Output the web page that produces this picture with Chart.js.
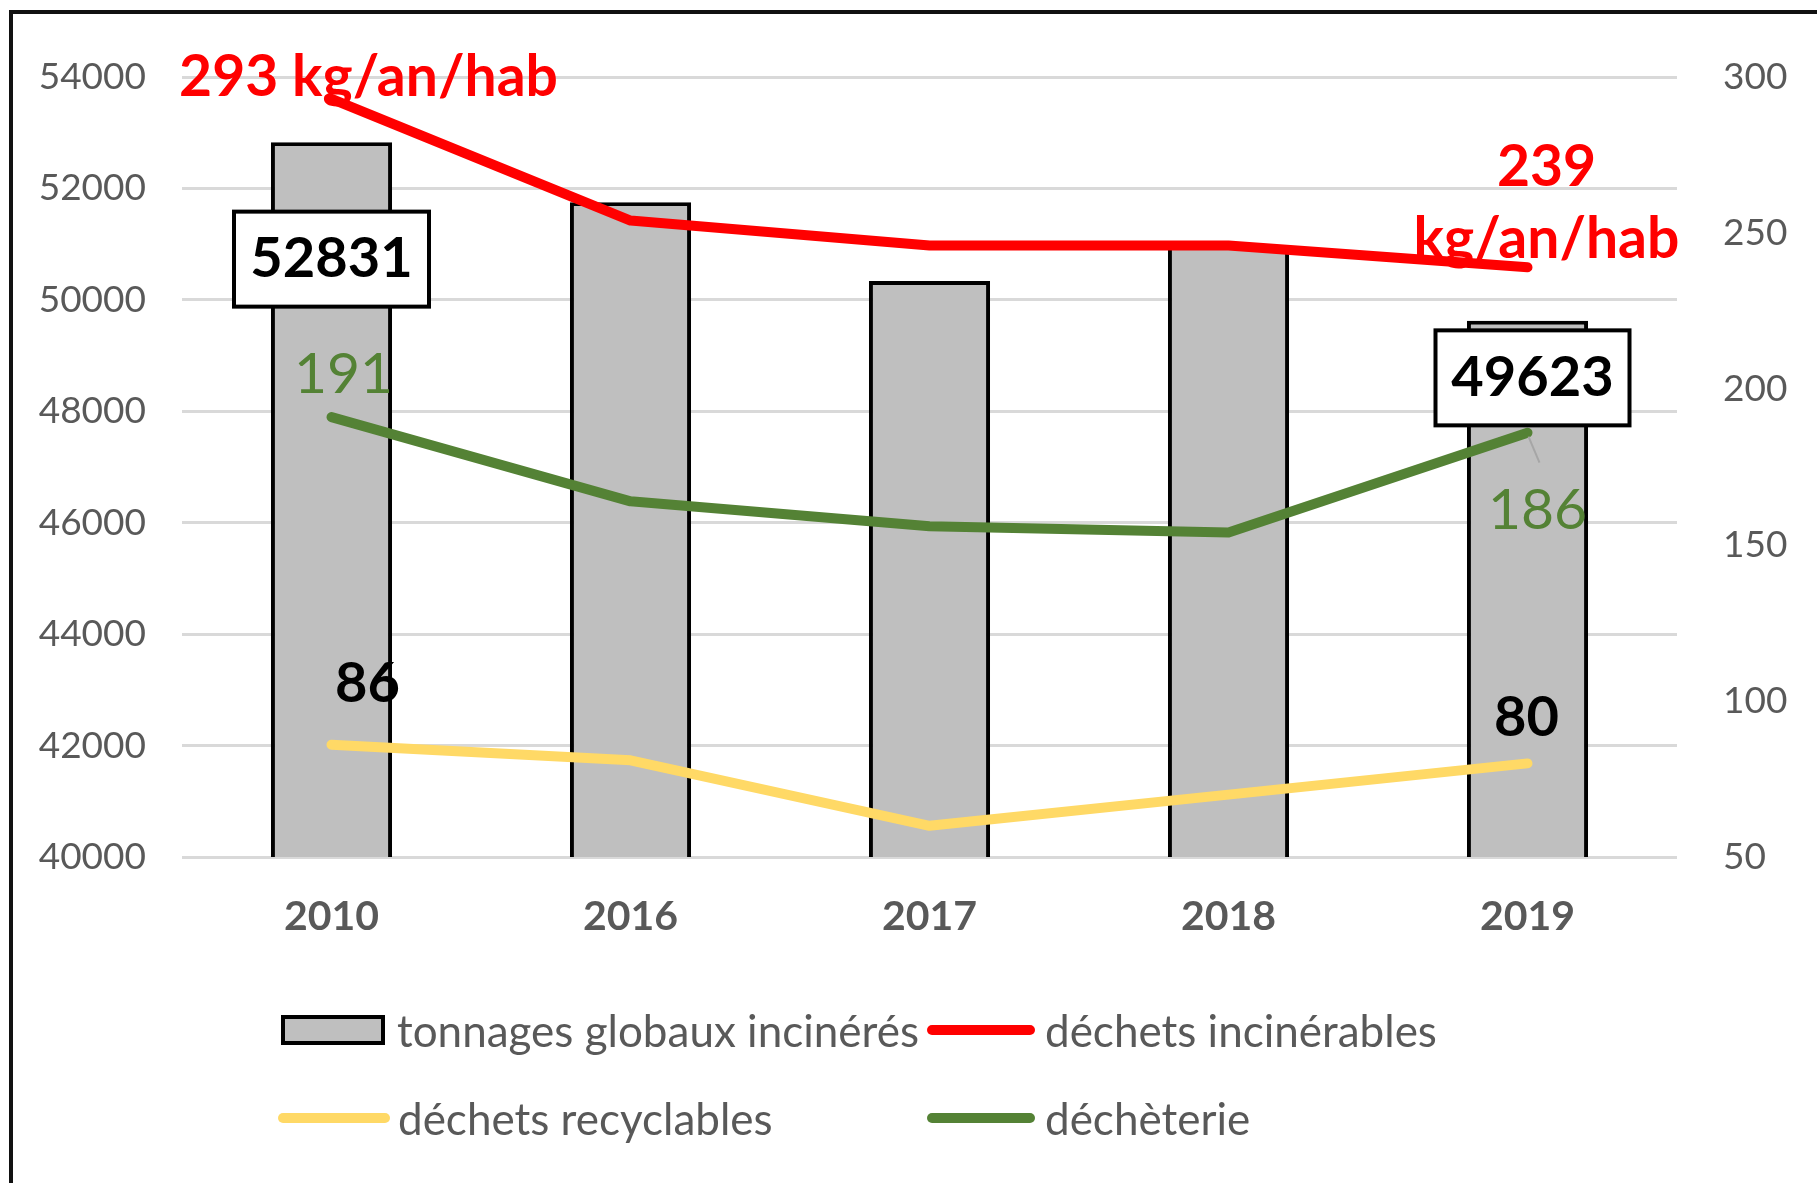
<!doctype html>
<html lang="fr">
  <head>
    <meta charset="UTF-8" />
    <title>Déchets incinérés</title>
    <script src="https://cdn.jsdelivr.net/npm/chart.js"></script>
    <style>
      body { margin: 0; background: #fff; overflow: hidden; }
      #wrap { position: relative; width: 1817px; height: 1183px; }
      #frame {
        position: absolute; left: 9px; top: 10px; width: 1900px; height: 1300px;
        border: 4px solid #111; box-sizing: border-box; pointer-events: none;
      }
      #legend {
        position: absolute; left: 278px; top: 986px;
        display: grid; grid-template-columns: 649px auto; grid-auto-rows: 88px;
        font-family: Lato, sans-serif; font-size: 44px; color: #595959;
      }
      .item { display: flex; align-items: center; white-space: nowrap; }
      .box { width: 104px; height: 30px; border: 4px solid #000; box-sizing: border-box; margin: 0 12px 0 3px; }
      .line { height: 10px; border-radius: 5px; margin-right: 8px; }
    </style>
  </head>
  <body>
    <div id="wrap">
      <canvas id="chart"></canvas>
      <div id="legend"></div>
      <div id="frame"></div>
    </div>

    <script>
      // values
      const years = ["2010", "2016", "2017", "2018", "2019"];
      const tonnages = [52831, 51750, 50340, 50970, 49623];
      const incinerables = [293, 254, 246, 246, 239];
      const recyclables = [86, 81, 60, 70, 80];
      const decheterie = [191, 164, 156, 154, 186];

      const tonnageTicks = [40000, 42000, 44000, 46000, 48000, 50000, 52000, 54000];
      const kgTicks = [50, 100, 150, 200, 250, 300];

      const names = [
        "tonnages globaux incinérés",
        "déchets incinérables",
        "déchets recyclables",
        "déchèterie",
      ];

      const FONT = "Lato, sans-serif";

      // labels sitting next to points (dataset index, point index, offset from point)
      const callouts = [
        { ds: 0, i: 0, lines: ["52831"], dx: 0, dy: 117, box: [195, 95], color: "#000", weight: "bold", size: 56 },
        { ds: 0, i: 4, lines: ["49623"], dx: 5, dy: 57, box: [194, 95], color: "#000", weight: "bold", size: 56 },
        { ds: 1, i: 0, lines: ["293 kg/an/hab"], dx: 37, dy: -21, color: "#ff0000", weight: "bold", size: 57 },
        { ds: 1, i: 4, lines: ["239", "kg/an/hab"], dx: 19, dy: -100, gap: 72, color: "#ff0000", weight: "bold", size: 57 },
        { ds: 3, i: 0, lines: ["191"], dx: 12, dy: -42, color: "#548235", weight: "normal", size: 57 },
        { ds: 3, i: 4, lines: ["186"], dx: 10, dy: 78, color: "#548235", weight: "normal", size: 57, leader: [1, 4, 12, 30] },
        { ds: 2, i: 0, lines: ["86"], dx: 36, dy: -61, color: "#000", weight: "bold", size: 56 },
        { ds: 2, i: 4, lines: ["80"], dx: -1, dy: -45, color: "#000", weight: "bold", size: 56 },
      ];

      const calloutPlugin = {
        id: "callouts",
        afterDatasetsDraw(chart) {
          const ctx = chart.ctx;
          ctx.save();
          callouts.forEach((c) => {
            const pt = chart.getDatasetMeta(c.ds).data[c.i];
            const x = pt.x + c.dx;
            const y = pt.y + c.dy;
            if (c.leader) {
              ctx.strokeStyle = "#a6a6a6";
              ctx.lineWidth = 2;
              ctx.beginPath();
              ctx.moveTo(pt.x + c.leader[0], pt.y + c.leader[1]);
              ctx.lineTo(pt.x + c.leader[2], pt.y + c.leader[3]);
              ctx.stroke();
            }
            if (c.box) {
              const [w, h] = c.box;
              ctx.fillStyle = "#fff";
              ctx.fillRect(x - w / 2, y - h / 2, w, h);
              ctx.strokeStyle = "#000";
              ctx.lineWidth = 4;
              ctx.strokeRect(x - w / 2, y - h / 2, w, h);
            }
            ctx.font = c.weight + " " + c.size + "px " + FONT;
            ctx.fillStyle = c.color;
            ctx.textAlign = "center";
            ctx.textBaseline = "middle";
            c.lines.forEach((t, k) => ctx.fillText(t, x, y + k * (c.gap || 0)));
          });
          ctx.restore();
        },
      };

      const plain = (v) => String(v);

      const chart = new Chart(document.getElementById("chart"), {
        type: "bar",
        data: {
          labels: years,
          datasets: [
            {
              label: names[0],
              data: tonnages,
              yAxisID: "y",
              backgroundColor: "#bfbfbf",
              borderColor: "#000",
              borderWidth: 4,
              barPercentage: 0.405,
              categoryPercentage: 1,
              order: 2,
            },
            {
              type: "line",
              label: names[1],
              data: incinerables,
              yAxisID: "y1",
              borderColor: "#ff0000",
              backgroundColor: "#ff0000",
              borderWidth: 10,
              pointRadius: 0,
              borderCapStyle: "round",
              borderJoinStyle: "round",
              order: 1,
            },
            {
              type: "line",
              label: names[2],
              data: recyclables,
              yAxisID: "y1",
              borderColor: "#ffd966",
              backgroundColor: "#ffd966",
              borderWidth: 10,
              pointRadius: 0,
              borderCapStyle: "round",
              borderJoinStyle: "round",
              order: 1,
            },
            {
              type: "line",
              label: names[3],
              data: decheterie,
              yAxisID: "y1",
              borderColor: "#548235",
              backgroundColor: "#548235",
              borderWidth: 10,
              pointRadius: 0,
              borderCapStyle: "round",
              borderJoinStyle: "round",
              order: 1,
            },
          ],
        },
        options: {
          responsive: true,
          maintainAspectRatio: false,
          animation: false,
          layout: { padding: { top: 77, left: 0, right: 0, bottom: 0 } },
          plugins: { legend: { display: false }, tooltip: { enabled: false } },
          scales: {
            x: {
              grid: { display: false, drawTicks: false },
              border: { display: false },
              ticks: { color: "#595959", font: { family: FONT, size: 41, weight: "bold" }, padding: 35 },
              afterFit: (s) => { s.height = 326; },
            },
            y: {
              position: "left",
              min: tonnageTicks[0],
              max: tonnageTicks[tonnageTicks.length - 1],
              ticks: {
                stepSize: tonnageTicks[1] - tonnageTicks[0],
                callback: plain,
                color: "#595959",
                font: { family: FONT, size: 37 },
                padding: 36,
              },
              grid: { color: "#d9d9d9", lineWidth: 3, drawTicks: false },
              border: { display: false },
              afterFit: (s) => { s.width = 182; },
            },
            y1: {
              position: "right",
              min: kgTicks[0],
              max: kgTicks[kgTicks.length - 1],
              ticks: {
                stepSize: kgTicks[1] - kgTicks[0],
                callback: plain,
                color: "#595959",
                font: { family: FONT, size: 37 },
                padding: 46,
              },
              grid: { display: false, drawTicks: false },
              border: { display: false },
              afterFit: (s) => { s.width = 140; },
            },
          },
        },
        plugins: [calloutPlugin],
      });

      // legend built from the chart's datasets, two columns like the original
      const legend = document.getElementById("legend");
      chart.data.datasets.forEach((ds, i) => {
        const item = document.createElement("div");
        item.className = "item";
        const sw = document.createElement("span");
        if (ds.type === "line") {
          sw.className = "line";
          sw.style.background = ds.borderColor;
          sw.style.width = i % 2 === 0 ? "112px" : "108px";
          if (i % 2 === 1) sw.style.marginRight = "10px";
        } else {
          sw.className = "box";
          sw.style.background = ds.backgroundColor;
        }
        item.appendChild(sw);
        item.appendChild(document.createTextNode(ds.label));
        legend.appendChild(item);
      });
    </script>
  </body>
</html>
